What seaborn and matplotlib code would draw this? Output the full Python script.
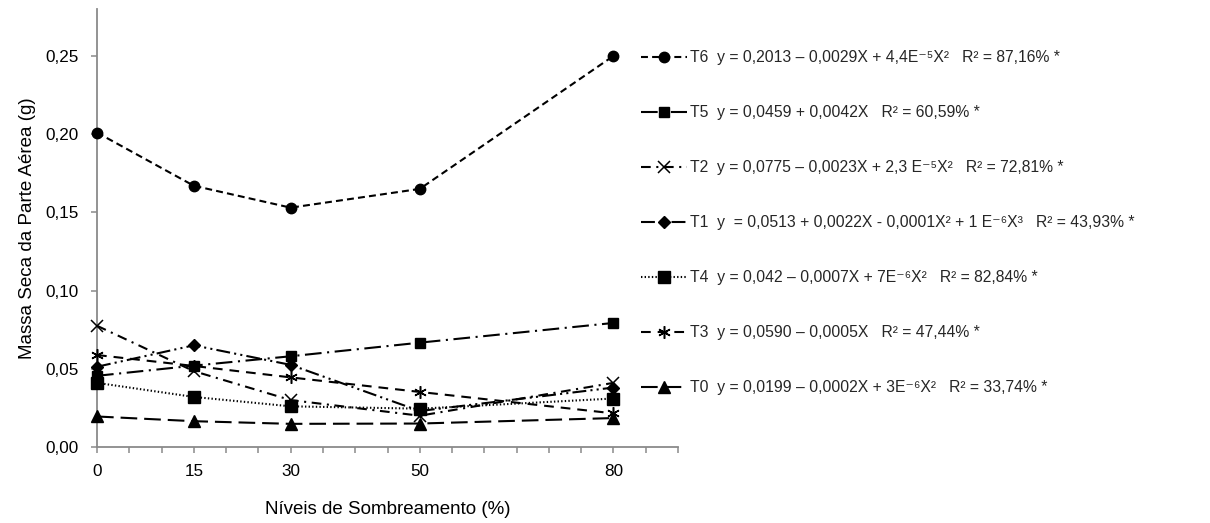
import matplotlib
matplotlib.use("Agg")
import matplotlib.pyplot as plt
import seaborn as sns
import pandas as pd
from matplotlib.ticker import FuncFormatter

# ---- data ----
niveis = [0, 15, 30, 50, 80]
t6 = [0.201, 0.167, 0.153, 0.165, 0.250]
t5 = [0.0455, 0.052, 0.058, 0.0667, 0.0793]
t2 = [0.0775, 0.0485, 0.030, 0.020, 0.041]
t1 = [0.0513, 0.0650, 0.0525, 0.023, 0.038]
t4 = [0.041, 0.032, 0.026, 0.0245, 0.031]
t3 = [0.0588, 0.0518, 0.0445, 0.0352, 0.0215]
t0 = [0.0195, 0.0165, 0.0148, 0.0150, 0.0185]

series_names = ["T6", "T5", "T2", "T1", "T4", "T3", "T0"]
series_values = [t6, t5, t2, t1, t4, t3, t0]
equations = [
    "T6  y = 0,2013 \u2013 0,0029X + 4,4E\u207b\u2075X\u00b2   R\u00b2 = 87,16% *",
    "T5  y = 0,0459 + 0,0042X   R\u00b2 = 60,59% *",
    "T2  y = 0,0775 \u2013 0,0023X + 2,3 E\u207b\u2075X\u00b2   R\u00b2 = 72,81% *",
    "T1  y  = 0,0513 + 0,0022X - 0,0001X\u00b2 + 1 E\u207b\u2076X\u00b3   R\u00b2 = 43,93% *",
    "T4  y = 0,042 \u2013 0,0007X + 7E\u207b\u2076X\u00b2   R\u00b2 = 82,84% *",
    "T3  y = 0,0590 \u2013 0,0005X   R\u00b2 = 47,44% *",
    "T0  y = 0,0199 \u2013 0,0002X + 3E\u207b\u2076X\u00b2   R\u00b2 = 33,74% *",
]
y_ticks = [0.00, 0.05, 0.10, 0.15, 0.20, 0.25]
x_label = "N\u00edveis de Sombreamento (%)"
y_label = "Massa Seca da Parte A\u00e9rea (g)"

# ---- styles ----
styles = {
    "T6": dict(marker="o", ms=7.5, ls=(0, (5, 3)), mew=1.0),
    "T5": dict(marker="s", ms=7, ls=(0, (12, 4, 1.5, 4)), mew=1.0),
    "T2": dict(marker="x", ms=8, ls=(0, (7, 4, 1.5, 4)), mew=1.1),
    "T1": dict(marker="D", ms=6.5, ls=(0, (10, 3, 1.5, 3, 1.5, 3)), mew=1.0),
    "T4": dict(marker="s", ms=8, ls=(0, (1, 1.6)), mew=1.0),
    "T3": dict(marker=(6, 2, 0), ms=9, ls=(0, (7, 5)), mew=1.1),
    "T0": dict(marker="^", ms=8, ls=(0, (12, 5)), mew=1.0),
}

sns.set_theme(style="white")
plt.rcParams["font.family"] = ["Liberation Sans", "DejaVu Sans"]
plt.rcParams["lines.scale_dashes"] = False

df = pd.DataFrame(
    {
        "nivel": niveis * len(series_names),
        "valor": [v for vals in series_values for v in vals],
        "serie": [n for n in series_names for _ in niveis],
    }
)

fig = plt.figure(figsize=(12.1, 5.23), dpi=100)
ax = fig.add_axes([97 / 1210, 1 - 447 / 523, (678 - 97) / 1210, (447 - 9) / 523])

handles = []
for name in series_names:
    st = styles[name]
    sub = df[df["serie"] == name]
    sns.lineplot(
        data=sub, x="nivel", y="valor", ax=ax, color="black",
        marker=st["marker"], markersize=st["ms"], linestyle=st["ls"],
        linewidth=1.5, markeredgecolor="black", markerfacecolor="black",
        markeredgewidth=st["mew"], legend=False, errorbar=None,
    )
    line = ax.lines[-1]
    line.set_clip_on(False)
    line.set_zorder(3)
    handles.append(line)

ax.set_xlim(0, 90)
ax.set_ylim(0, 0.28)
ax.set_xticks(list(range(0, 95, 5)))
ax.set_xticklabels([str(v) if v in niveis else "" for v in range(0, 95, 5)])
ax.set_yticks(y_ticks)
ax.yaxis.set_major_formatter(FuncFormatter(lambda v, p: f"{v:.2f}".replace(".", ",")))

for side in ["top", "right"]:
    ax.spines[side].set_visible(False)
for side in ["left", "bottom"]:
    ax.spines[side].set_color("#8a8a8a")
    ax.spines[side].set_linewidth(1.3)
    ax.spines[side].set_zorder(1)

ax.tick_params(axis="both", which="both", direction="out", length=4, width=1.1,
               color="#8a8a8a", labelsize=12.3, labelcolor="black")
ax.tick_params(axis="x", pad=8, bottom=True)
ax.tick_params(axis="y", pad=9, left=True)

ax.set_xlabel(x_label, fontsize=13.5, color="black", labelpad=16)
ax.set_ylabel(y_label, fontsize=13.5, color="black", labelpad=7)

fig.legend(
    handles, equations, loc="upper left",
    bbox_to_anchor=(641 / 1210, 1 - 50 / 523),
    frameon=False, fontsize=11.3, handlelength=2.9, handletextpad=0.25,
    labelspacing=2.55, borderpad=0, borderaxespad=0,
)

fig.savefig("out.png", dpi=100, facecolor="white")
